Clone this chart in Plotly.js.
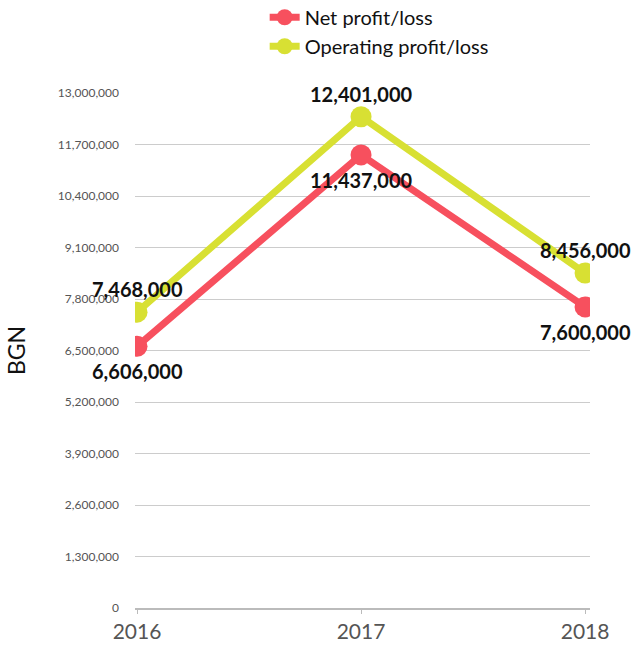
<!DOCTYPE html>
<html>
<head>
<meta charset="utf-8">
<script src="https://cdn.plot.ly/plotly-3.0.1.min.js"></script>
<style>html,body{margin:0;padding:0;background:#fff;}#chart{width:632px;height:650px;}</style>
</head>
<body>
<div id="chart"></div>
<script>
const years = [2016, 2017, 2018];
const netProfit = [6606000, 11437000, 7600000];
const operatingProfit = [7468000, 12401000, 8456000];
const seriesNames = ['Net profit/loss', 'Operating profit/loss'];
const tickVals = [0, 1300000, 2600000, 3900000, 5200000, 6500000, 7800000, 9100000, 10400000, 11700000, 13000000];

const red = '#f7505e';
const lime = '#d8e033';
const font = 'Lato, Open Sans, sans-serif';

function fmt(v){ return v.toLocaleString('en-US'); }

const traces = [
  {x: years, y: netProfit, name: seriesNames[0], type: 'scatter', mode: 'lines+markers',
   line: {color: red, width: 7}, marker: {color: red, size: 21}},
  {x: years, y: operatingProfit, name: seriesNames[1], type: 'scatter', mode: 'lines+markers',
   line: {color: lime, width: 7}, marker: {color: lime, size: 21}}
];

const annotations = [];
years.forEach((yr, i) => {
  annotations.push({x: yr, y: operatingProfit[i], text: '<b>' + fmt(operatingProfit[i]) + '</b>',
    showarrow: false, yshift: 23, font: {family: font, size: 20, color: '#111'}});
  annotations.push({x: yr, y: netProfit[i], text: '<b>' + fmt(netProfit[i]) + '</b>',
    showarrow: false, yshift: -25, font: {family: font, size: 20, color: '#111'}});
});

const layout = {
  width: 632, height: 650,
  margin: {l: 135, r: 42, t: 93, b: 42, autoexpand: false},
  paper_bgcolor: '#fff', plot_bgcolor: '#fff',
  font: {family: font},
  showlegend: true,
  legend: {x: 0.285, xanchor: 'left', y: 1.185, yanchor: 'top', orientation: 'v',
    font: {family: font, size: 20, color: '#111'}, tracegroupgap: 10, itemwidth: 30},
  xaxis: {type: 'linear', range: [2015.991, 2018.022], tickvals: years, ticktext: years.map(String),
    showgrid: false, zeroline: false, showline: true, linecolor: '#bbb', linewidth: 2,
    ticks: 'outside', ticklen: 4, tickcolor: '#bbb',
    tickfont: {family: font, size: 21, color: '#555'}},
  yaxis: {range: [0, 13000000], tickvals: tickVals, ticktext: tickVals.map(fmt),
    showgrid: true, gridcolor: '#cccccc', gridwidth: 1, zeroline: false, showline: false,
    ticks: '', ticklabelstandoff: 15,
    tickfont: {family: font, size: 12, color: '#555'},
    title: {text: 'BGN', font: {family: font, size: 23, color: '#111'}, standoff: 25}},
  annotations: annotations
};

Plotly.newPlot('chart', traces, layout, {displayModeBar: false, staticPlot: true});
</script>
</body>
</html>
